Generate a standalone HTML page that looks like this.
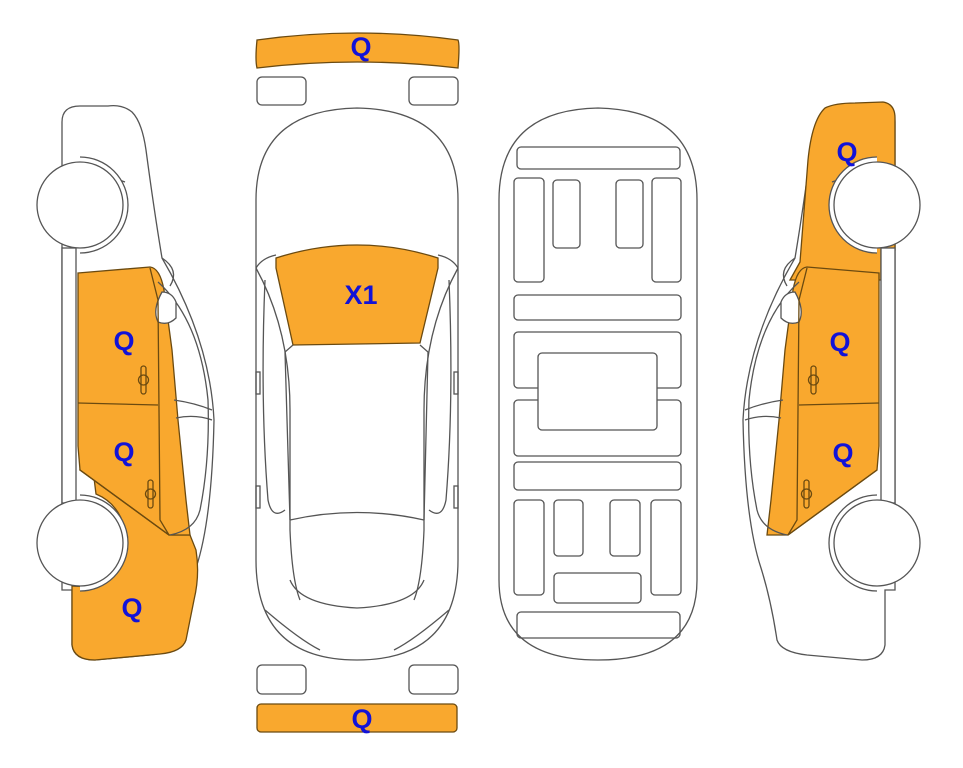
<!DOCTYPE html>
<html><head><meta charset="utf-8"><style>
html,body{margin:0;padding:0;background:#fff;}
svg{display:block;}
text{font-family:"Liberation Sans",Arial,sans-serif;font-weight:bold;fill:#1212d8;font-size:27px;text-anchor:middle;}
</style></head><body>
<svg width="963" height="768" viewBox="0 0 963 768" xmlns="http://www.w3.org/2000/svg">
<defs>
<path id="body" d="M62,122 Q62,106 80,106 L108,106 Q122,104 132,112 Q142,122 146,150 Q154,210 162,258 Q210,340 214,420 Q212,520 196,568 Q186,600 180,640 Q176,652 150,655 L95,660 Q74,660 72,645 L72,590 L62,590 L62,122 Z" fill="#fff" stroke="#555" stroke-width="1.3"/>
<path id="doors" d="M78,273 L150,267 Q160,268 164,290 L172,350 L178,420 L186,500 L190,535 L169,535 L80,470 L78,446 Z" fill="#f9a82e" stroke="#6b4a10" stroke-width="1.3"/>
<g id="lines" fill="none" stroke="#555" stroke-width="1.3">
  <path d="M62,178 Q100,172 125,182"/>
  <rect x="62" y="248" width="14" height="255" fill="#fff"/>
  <path d="M162,258 Q180,270 170,286"/>
  <path d="M158,282 Q200,320 208,400 Q210,460 200,510 Q195,530 170,535"/>
  <path d="M174,400 Q195,403 212,410"/>
  <path d="M176,418 Q195,414 212,420"/>
  <path d="M162,292 Q172,292 176,302 L176,318 Q168,326 158,322 Q152,310 162,292 Z" fill="#fff"/>
  <path d="M78,403 L158,405" stroke="#6b4a10"/>
  <path d="M150,268 L158,300 L160,520 L169,535" stroke="#6b4a10"/>
  <path d="M80,470 L169,535" stroke="#6b4a10"/>
  <rect x="141" y="366" width="5" height="28" rx="2.5" stroke="#6b4a10"/>
  <circle cx="143.5" cy="380" r="5" stroke="#6b4a10"/>
  <rect x="148" y="480" width="5" height="28" rx="2.5" stroke="#6b4a10"/>
  <circle cx="150.5" cy="494" r="5" stroke="#6b4a10"/>
  <path d="M80,157 A48 48 0 0 1 80,253" fill="#fff"/>
  <circle cx="80" cy="205" r="43" fill="#fff"/>
  <path d="M80,495 A48 48 0 0 1 80,591" fill="#fff"/>
  <circle cx="80" cy="543" r="43" fill="#fff"/>
</g>
</defs>

<!-- left car -->
<use href="#body"/>
<path d="M80,470 L169,535 L190,535 L196,550 Q200,575 194,600 L186,640 Q182,652 160,654 L95,660 Q74,660 72,645 L72,586 A48 48 0 0 0 96,494 L92,462 Z" fill="#f9a82e" stroke="#6b4a10" stroke-width="1.3"/>
<use href="#doors"/>
<use href="#lines"/>

<!-- right car (mirrored) -->
<use href="#body" transform="translate(957,0) scale(-1,1)"/>
<path d="M790,280 L800,262 Q805,200 808,160 Q812,120 825,108 Q835,103 855,103 L883,102 Q895,104 895,118 L895,250 L881,250 L881,280 Z" fill="#f9a82e" stroke="#6b4a10" stroke-width="1.3"/>
<use href="#doors" transform="translate(957,0) scale(-1,1)"/>
<use href="#lines" transform="translate(957,0) scale(-1,1)"/>

<!-- center top view -->
<g fill="none" stroke="#555" stroke-width="1.3">
  <path d="M257,40 Q357,26 458,40 Q460,44 458,68 Q357,56 257,68 Q255,60 257,40 Z" fill="#f9a82e" stroke="#6b4a10"/>
  <rect x="257" y="77" width="49" height="28" rx="5"/>
  <rect x="409" y="77" width="49" height="28" rx="5"/>
  <path d="M256,200 Q256,110 357,108 Q458,110 458,200 L458,560 Q458,660 357,660 Q256,660 256,560 Z" fill="#fff"/>
  <path d="M276,258 Q357,232 438,258 L438,268 L420,343 L293,345 L276,268 Z" fill="#f9a82e" stroke="#6b4a10"/>
  <path d="M256,268 Q262,258 276,255"/>
  <path d="M458,268 Q452,258 438,255"/>
  <path d="M256,268 Q290,330 290,410 L290,530 Q292,580 300,600"/>
  <path d="M458,268 Q424,330 424,410 L424,530 Q422,580 414,600"/>
  <path d="M293,345 L285,352 L290,520"/>
  <path d="M420,345 L428,352 L424,520"/>
  <path d="M290,520 Q357,505 424,520"/>
  <path d="M290,580 Q300,605 357,608 Q414,605 424,580"/>
  <path d="M265,280 Q260,400 268,500 Q272,520 285,510"/>
  <path d="M449,280 Q454,400 446,500 Q442,520 429,510"/>
  <path d="M265,610 Q300,640 320,650"/>
  <path d="M449,610 Q414,640 394,650"/>
  <rect x="256" y="372" width="4" height="22"/><rect x="454" y="372" width="4" height="22"/>
  <rect x="256" y="486" width="4" height="22"/><rect x="454" y="486" width="4" height="22"/>
  <rect x="257" y="665" width="49" height="29" rx="5"/>
  <rect x="409" y="665" width="49" height="29" rx="5"/>
  <rect x="257" y="704" width="200" height="28" rx="4" fill="#f9a82e" stroke="#6b4a10"/>
</g>

<!-- underside view -->
<g fill="none" stroke="#555" stroke-width="1.3">
  <path d="M499,200 Q499,110 598,108 Q697,110 697,200 L697,580 Q697,660 598,660 Q499,660 499,580 Z"/>
  <rect x="517" y="147" width="163" height="22" rx="4"/>
  <rect x="514" y="178" width="30" height="104" rx="4"/>
  <rect x="553" y="180" width="27" height="68" rx="4"/>
  <rect x="616" y="180" width="27" height="68" rx="4"/>
  <rect x="652" y="178" width="29" height="104" rx="4"/>
  <rect x="514" y="295" width="167" height="25" rx="4"/>
  <rect x="514" y="332" width="167" height="56" rx="4"/>
  <rect x="514" y="400" width="167" height="56" rx="4"/>
  <rect x="538" y="353" width="119" height="77" rx="4" fill="#fff"/>
  <rect x="514" y="462" width="167" height="28" rx="4"/>
  <rect x="514" y="500" width="30" height="95" rx="4"/>
  <rect x="554" y="500" width="29" height="56" rx="4"/>
  <rect x="610" y="500" width="30" height="56" rx="4"/>
  <rect x="651" y="500" width="30" height="95" rx="4"/>
  <rect x="554" y="573" width="87" height="30" rx="4"/>
  <rect x="517" y="612" width="163" height="26" rx="4"/>
</g>

<text x="361" y="56">Q</text>
<text x="361" y="304">X1</text>
<text x="362" y="728">Q</text>
<text x="124" y="350">Q</text>
<text x="124" y="461">Q</text>
<text x="132" y="617">Q</text>
<text x="847" y="161">Q</text>
<text x="840" y="351">Q</text>
<text x="843" y="462">Q</text>
</svg>
</body></html>
